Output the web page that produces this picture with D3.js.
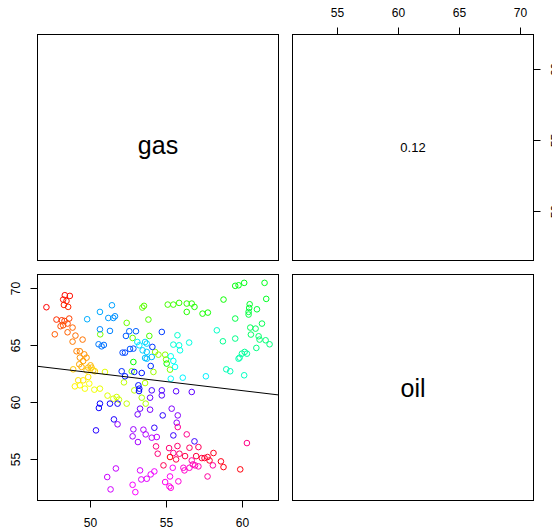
<!DOCTYPE html>
<html>
<head>
<meta charset="utf-8">
<script src="https://cdn.jsdelivr.net/npm/d3@7"></script>
<style>
  html, body { margin: 0; padding: 0; background: #ffffff; }
  svg { display: block; font-family: "Liberation Sans", Arial, Helvetica, sans-serif; }
</style>
</head>
<body>
<script>
// Variable names shown on the diagonal
const varNames = ["gas", "oil"];

// Observations in time order (colour follows the time index)
const gas = [
  47.14, 48.35, 48.68, 48.24, 48.46, 48.29, 48.57, 47.80, 48.15, 48.33, 48.64, 48.53, 48.07, 48.24, 47.69, 48.53, 48.86,
  49.05, 49.52, 48.86, 49.12, 49.34, 49.63, 49.34, 49.78, 49.56, 49.30, 49.45, 50.04, 49.89, 50.11, 48.90, 49.78, 50.22, 50.33,
  49.23, 49.56, 49.89, 49.01, 49.34, 49.96, 49.67, 50.29, 50.66, 50.99, 51.16,
  51.54, 51.76, 51.91, 52.42, 52.24, 52.92, 53.63, 53.67, 53.41, 54.18, 54.29, 54.51, 54.95, 55.01, 55.27, 52.75,
  50.68, 52.42, 52.81, 53.45, 53.56, 53.85, 53.91, 55.12, 55.49, 55.87, 56.37, 56.70, 56.37, 56.88, 57.41, 57.76, 58.79, 52.86, 55.05,
  59.56, 59.78, 60.15, 61.49, 61.60, 60.51, 60.48, 60.99, 60.44, 60.44, 59.56, 61.32, 60.55, 60.90, 60.59, 61.10, 61.16, 61.56, 61.82, 60.95,
  59.56, 58.75, 60.18, 60.00, 60.33, 59.85, 59.78, 58.97, 59.23, 60.15,
  58.35, 55.76, 55.49, 55.87, 56.53, 55.93, 55.32, 55.49, 55.60, 55.32, 56.11, 57.63, 53.12, 53.25, 53.63, 53.74, 53.47, 53.74, 53.63, 53.74, 54.07,
  49.82, 50.66, 51.45, 51.21, 51.54, 51.65, 50.66, 51.32, 50.57, 50.77, 50.92, 52.59, 53.03, 52.37, 52.64, 52.86, 52.15, 52.31, 54.73,
  54.11, 54.00, 52.09, 52.31, 52.92, 53.41, 53.19, 53.25, 53.23, 50.66, 50.59, 51.32, 51.82, 51.58, 50.40, 54.79, 54.24, 55.49, 56.88,
  54.07, 54.73, 54.73, 55.67, 56.70, 53.96, 53.30, 53.14, 53.96, 55.38, 55.78, 55.71, 51.82, 52.86, 52.81, 53.16, 53.52, 53.67, 54.07, 54.40,
  51.71, 51.14, 51.36, 53.30, 53.38, 53.74, 54.00, 54.24, 52.81, 52.99, 55.45, 55.27, 54.95, 55.23, 55.32, 55.82, 56.15, 56.22, 56.55, 56.77,
  56.92, 57.14, 56.70, 58.09, 57.74, 55.49,
  55.78, 56.37, 60.33, 54.35, 54.46, 55.21, 55.76, 55.89, 56.55, 57.14, 54.84, 55.67, 56.26, 56.99, 57.36, 57.54, 57.74, 57.87, 58.13, 58.62,
  58.79, 59.89, 55.27
];
const oil = [
  68.28, 69.33, 69.27, 68.95, 68.83, 68.48, 68.31, 67.20, 67.14, 67.08, 67.29, 66.85, 66.62, 66.70, 65.91, 66.09, 66.50,
  65.80, 65.45, 65.27, 64.43, 64.43, 64.16, 63.87, 63.87, 63.58, 63.29, 63.06, 63.20, 63.00, 63.00, 62.85, 62.76, 62.76, 62.68,
  61.89, 61.89, 62.18, 61.36, 61.45, 61.60, 61.16, 61.07, 61.16, 62.62, 60.55,
  60.28, 60.43, 60.20, 59.85, 61.71, 61.01, 61.65, 59.85, 60.37, 62.62, 64.37, 64.13, 64.13, 63.70, 62.82, 62.68,
  65.91, 66.91, 65.59, 68.25, 68.40, 67.20, 65.77, 68.51, 68.51, 68.66, 68.60, 68.60, 67.87, 68.31, 67.72, 67.81, 68.95, 63.49, 63.35,
  70.15, 70.20, 70.41, 70.41, 69.01, 68.54, 68.22, 68.10, 67.87, 67.64, 67.29, 66.85, 66.50, 66.41, 65.89, 65.74, 65.45, 65.39, 65.04, 64.72,
  65.54, 65.30, 64.37, 64.22, 64.22, 63.87, 63.78, 62.85, 62.68, 62.33,
  66.26, 65.83, 65.01, 64.95, 65.19, 64.51, 63.99, 63.58, 63.06, 62.03, 62.12, 62.24, 65.24, 64.95, 65.24, 65.10, 64.51, 64.37, 63.84, 63.78, 63.93,
  67.23, 67.87, 68.45, 67.34, 67.34, 67.49, 66.35, 66.21, 65.04, 64.86, 64.98, 66.18, 66.18, 65.77, 64.63, 64.66, 64.31, 64.31, 66.12,
  64.81, 63.14, 62.68, 62.24, 62.62, 62.53, 61.45, 61.16, 60.95, 59.85, 59.47, 59.85, 59.85, 58.47, 57.51, 58.82, 57.74, 57.07, 56.55,
  61.01, 61.01, 60.57, 60.93, 60.87, 60.37, 59.41, 58.91, 59.32, 59.41, 58.82, 58.18, 58.04, 57.60, 56.99, 56.49, 57.57, 57.16, 56.87, 56.93,
  54.18, 53.43, 52.35, 54.01, 53.22, 53.28, 53.66, 53.92, 52.75, 52.11, 54.24, 53.48, 52.99, 52.61, 52.49, 53.05, 54.24, 54.01, 54.24, 54.53,
  54.45, 54.36, 54.88, 54.45, 53.48, 55.53,
  57.80, 57.16, 56.40, 56.11, 55.47, 55.96, 56.14, 55.47, 55.99, 56.05, 54.45, 54.97, 55.26, 55.26, 55.09, 55.09, 55.18, 54.88, 55.53, 54.80,
  54.30, 54.10, 55.18
];

// Axis tick values
const gasTicks = [50, 55, 60];
const oilTicks = [55, 60, 65, 70];

// Fitted straight line for oil on gas: [intercept, slope]
const fitLine = [70.47, -0.158];

// Correlation text printed in the upper panel
const corLabel = ["0.12"];

const W = 552, H = 531;
const svg = d3.select("body").append("svg")
  .attr("width", W).attr("height", H)
  .attr("viewBox", `0 0 ${W} ${H}`);
svg.append("rect").attr("width", W).attr("height", H).attr("fill", "#ffffff");

// Panel geometry (2 x 2 grid)
const colX = [37.5, 292.5], rowY = [34.5, 274.5];
const pw = 241, ph = 226;
const tickLen = 7, labelOff = 22;

// R-style ranges: data extent widened by 4% on each side
function rRange(v) {
  const [lo, hi] = d3.extent(v), d = (hi - lo) * 0.04;
  return [lo - d, hi + d];
}
const gasDom = rRange(gas), oilDom = rRange(oil);

const n = gas.length;
const rainbow = i => d3.hsl(360 * i / n, 1, 0.5).formatHex();
const pts = gas.map((g, i) => ({ g, o: oil[i], c: rainbow(i) }));

// Scales for the lower-left panel (x = gas, y = oil)
const xGasL = d3.scaleLinear().domain(gasDom).range([colX[0], colX[0] + pw]);
const yOilL = d3.scaleLinear().domain(oilDom).range([rowY[1] + ph, rowY[1]]);
// Scales for the upper-right panel (x = oil, y = gas)
const xOilU = d3.scaleLinear().domain(oilDom).range([colX[1], colX[1] + pw]);
const yGasU = d3.scaleLinear().domain(gasDom).range([rowY[0] + ph, rowY[0]]);

// Panel boxes
for (let r = 0; r < 2; r++) for (let c = 0; c < 2; c++) {
  svg.append("rect")
    .attr("x", colX[c]).attr("y", rowY[r]).attr("width", pw).attr("height", ph)
    .attr("fill", "none").attr("stroke", "#000").attr("stroke-width", 1);
}

// Centred text, vertically centred on the glyphs' ink height above the baseline
function centredText(x, y, str, size, inkHeight) {
  svg.append("text").attr("x", x).attr("y", y + size * inkHeight / 2)
    .attr("text-anchor", "middle").attr("font-size", size).text(str);
}

// Diagonal variable names (x-height only for "gas", ascenders for "oil")
const diagFont = 25;
centredText(colX[0] + pw / 2, rowY[0] + ph / 2, varNames[0], diagFont, 0.53);
centredText(colX[1] + pw / 2, rowY[1] + ph / 2, varNames[1], diagFont, 0.72);

// Correlation in the upper-right panel
centredText(colX[1] + pw / 2, rowY[0] + ph / 2, corLabel[0], 13, 0.72);

// Axes drawn R-style: line spanning the ticks, ticks outward, labels centred
function axisH(scale, ticks, y, dir) {
  const g = svg.append("g");
  g.append("line").attr("x1", scale(ticks[0])).attr("x2", scale(ticks[ticks.length - 1]))
    .attr("y1", y).attr("y2", y).attr("stroke", "#000");
  ticks.forEach(t => {
    const x = Math.round(scale(t)) + 0.5;
    g.append("line").attr("x1", x).attr("x2", x).attr("y1", y).attr("y2", y + dir * tickLen).attr("stroke", "#000");
    g.append("text").attr("x", x).attr("y", y + dir * labelOff)
      .attr("text-anchor", "middle").attr("dominant-baseline", "central")
      .attr("font-size", 12).text(t);
  });
}
function axisV(scale, ticks, x, dir) {
  const g = svg.append("g");
  g.append("line").attr("y1", scale(ticks[0])).attr("y2", scale(ticks[ticks.length - 1]))
    .attr("x1", x).attr("x2", x).attr("stroke", "#000");
  ticks.forEach(t => {
    const y = Math.round(scale(t)) + 0.5;
    g.append("line").attr("y1", y).attr("y2", y).attr("x1", x).attr("x2", x + dir * tickLen).attr("stroke", "#000");
    g.append("text").attr("transform", `translate(${x + dir * labelOff},${y}) rotate(-90)`)
      .attr("text-anchor", "middle").attr("dominant-baseline", "central")
      .attr("font-size", 12).text(t);
  });
}
axisH(xGasL, gasTicks, rowY[1] + ph, 1);   // bottom of lower-left
axisV(yOilL, oilTicks, colX[0], -1);       // left of lower-left
axisH(xOilU, oilTicks, rowY[0], -1);       // top of upper-right
axisV(yGasU, gasTicks, colX[1] + pw, 1);   // right of upper-right

// Scatter of oil against gas
svg.append("clipPath").attr("id", "clipLL").append("rect")
  .attr("x", colX[0]).attr("y", rowY[1]).attr("width", pw).attr("height", ph);
const ll = svg.append("g");
ll.selectAll("circle").data(pts).join("circle")
  .attr("cx", d => xGasL(d.g)).attr("cy", d => yOilL(d.o)).attr("r", 2.8)
  .attr("fill", "none").attr("stroke", d => d.c).attr("stroke-width", 1);

// Fitted line, clipped to the panel
ll.append("line").attr("clip-path", "url(#clipLL)")
  .attr("x1", xGasL(gasDom[0])).attr("y1", yOilL(fitLine[0] + fitLine[1] * gasDom[0]))
  .attr("x2", xGasL(gasDom[1])).attr("y2", yOilL(fitLine[0] + fitLine[1] * gasDom[1]))
  .attr("stroke", "#000").attr("stroke-width", 1);
</script>
</body>
</html>
